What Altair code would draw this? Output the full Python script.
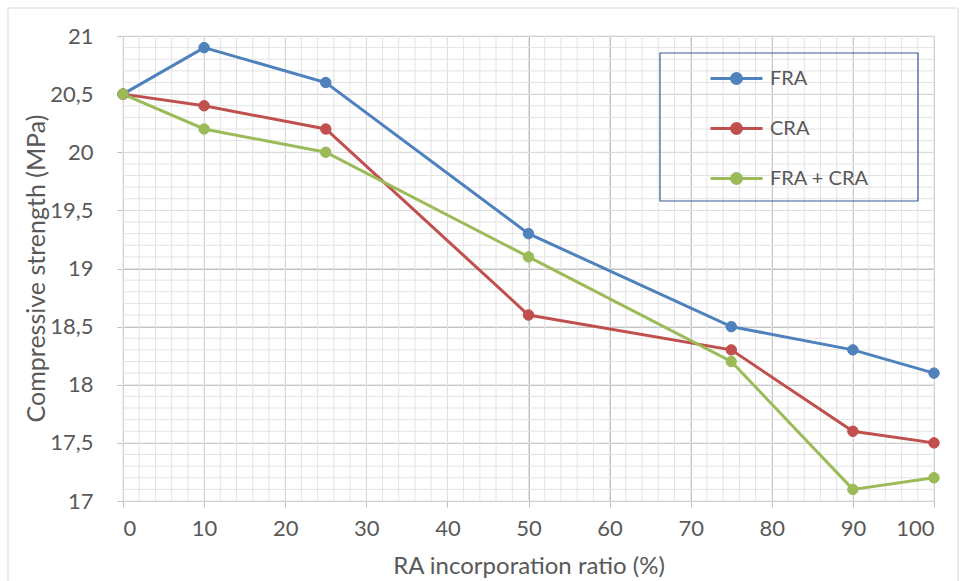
import altair as alt
import pandas as pd

ratio = [0, 10, 25, 50, 75, 90, 100]
fra = [20.5, 20.9, 20.6, 19.3, 18.5, 18.3, 18.1]
cra = [20.5, 20.4, 20.2, 18.6, 18.3, 17.6, 17.5]
fra_cra = [20.5, 20.2, 20.0, 19.1, 18.2, 17.1, 17.2]
series_names = ["FRA", "CRA", "FRA + CRA"]
series_colors = ["#4F81BD", "#C0504D", "#9BBB59"]

x_major = list(range(0, 101, 10))
x_minor = list(range(0, 101, 2))
y_major = [17, 17.5, 18, 18.5, 19, 19.5, 20, 20.5, 21]
y_minor = [round(17 + i * 0.1, 1) for i in range(41)]

rows = []
for name, vals in zip(series_names, [fra, cra, fra_cra]):
    for r, v in zip(ratio, vals):
        rows.append({"ratio": r, "strength": v, "series": name})
df = pd.DataFrame(rows)

FONT = "Lato"
TXT = "#595959"

xs = alt.Scale(domain=[0, 100], nice=False, zero=False)
ys = alt.Scale(domain=[17, 21], nice=False, zero=False)
cs = alt.Scale(domain=series_names, range=series_colors)

# circle made of bezier curves + horizontal line
r = 0.19
k = 0.5523 * r
circle = (f"M{-r},0 C{-r},{-k} {-k},{-r} 0,{-r} C{k},{-r} {r},{-k} {r},0 "
          f"C{r},{k} {k},{r} 0,{r} C{-k},{r} {-r},{k} {-r},0 Z")
sym_path = "M-1,0 L1,0 " + circle

leg = alt.Legend(
    title=None, orient="none", legendX=586, legendY=15,
    symbolType=sym_path, symbolSize=2704, symbolStrokeWidth=3,
    labelFont=FONT, labelFontSize=20, labelColor=TXT, labelOffset=6,
    rowPadding=11, padding=0)

x_axis = alt.Axis(values=x_major, grid=True, gridColor="#BFBFBF",
                  domainColor="#BFBFBF", tickColor="#BFBFBF", tickSize=6,
                  labelFont=FONT, labelFontSize=22, labelColor=TXT, labelPadding=11,
                  title="RA incorporation ratio (%)", titleFont=FONT,
                  titleFontSize=24, titleFontWeight="normal", titleColor=TXT,
                  titlePadding=15)
y_axis = alt.Axis(values=y_major, grid=True, gridColor="#BFBFBF",
                  domainColor="#BFBFBF", tickColor="#BFBFBF", tickSize=6,
                  labelFont=FONT, labelFontSize=22, labelColor=TXT, labelPadding=24,
                  labelExpr="replace(toString(datum.value), '.', ',')",
                  title="Compressive strength (MPa)", titleFont=FONT,
                  titleFontSize=25, titleFontWeight="normal", titleColor=TXT,
                  titleX=-87, titleY=232, titleAngle=270, titleAlign="center",
                  titleBaseline="middle")

xminor_df = pd.DataFrame({"ratio": x_minor})
yminor_df = pd.DataFrame({"strength": y_minor})
xminor = alt.Chart(xminor_df).mark_rule(color="#E3E3E3", strokeWidth=1).encode(
    x=alt.X("ratio:Q", scale=xs, axis=x_axis))
yminor = alt.Chart(yminor_df).mark_rule(color="#E3E3E3", strokeWidth=1).encode(
    y=alt.Y("strength:Q", scale=ys, axis=y_axis))

lines = alt.Chart(df).mark_line(strokeWidth=3).encode(
    x=alt.X("ratio:Q", scale=xs, axis=x_axis),
    y=alt.Y("strength:Q", scale=ys, axis=y_axis),
    stroke=alt.Stroke("series:N", scale=cs, legend=leg),
)

points = alt.Chart(df).mark_point(filled=True, size=110, opacity=1, strokeWidth=1).encode(
    x=alt.X("ratio:Q", scale=xs, axis=x_axis),
    y=alt.Y("strength:Q", scale=ys, axis=y_axis),
    fill=alt.Fill("series:N", scale=cs, legend=leg),
    stroke=alt.Stroke("series:N", scale=cs, legend=leg),
)

frame_df = pd.DataFrame({"k": [0]})
legend_box = alt.Chart(frame_df).mark_rect(fillOpacity=0, stroke="#3B5998", strokeWidth=1.2).encode(
    x=alt.value(537), x2=alt.value(795), y=alt.value(17), y2=alt.value(165))
outer_box = alt.Chart(frame_df).mark_rect(fillOpacity=0, stroke="#D9D9D9", strokeWidth=1).encode(
    x=alt.value(-115), x2=alt.value(835), y=alt.value(-28), y2=alt.value(548))

chart = alt.layer(xminor, yminor, lines, points, legend_box, outer_box).properties(
    width=811, height=465,
    autosize=alt.AutoSizeParams(type="none"),
    padding={"left": 123, "top": 36, "right": 29, "bottom": 80},
    background="white",
).configure_view(stroke=None)

chart.save("out.html", embed_options={"renderer": "svg", "actions": False})
